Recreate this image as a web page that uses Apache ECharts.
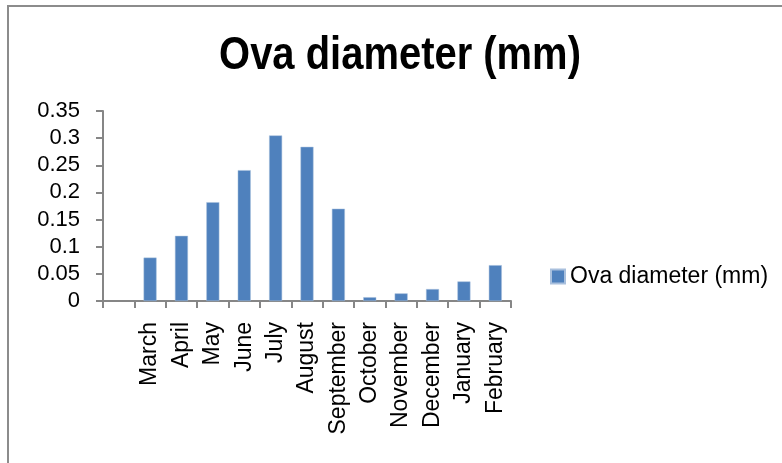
<html>
    <head>
        <title>Ova diameter</title>
        <meta charset="utf-8">
        <script src="https://cdn.jsdelivr.net/npm/echarts@6/dist/echarts.min.js"></script>
        <style>
            body { margin: 0; background: #fff; }
            #chart { width: 782px; height: 463px; }
        </style>
    </head>
    <body>
        <div id="chart"></div>
        <script type="text/javascript">
            // first category is left empty, like in the original sheet
            var months = ['', 'March', 'April', 'May', 'June', 'July', 'August', 'September',
                          'October', 'November', 'December', 'January', 'February'];
            var ovaDiameter = [null, 0.08, 0.12, 0.182, 0.241, 0.305, 0.284, 0.17,
                               0.007, 0.014, 0.022, 0.036, 0.066];
            var yTicks = [0, 0.05, 0.1, 0.15, 0.2, 0.25, 0.3, 0.35];
            var chartTitle = 'Ova diameter (mm)';

            var chart = echarts.init(document.getElementById('chart'));
            chart.setOption({
                animation: false,
                textStyle: { fontFamily: 'Liberation Sans' },
                graphic: [{
                    type: 'rect',
                    shape: { x: 8, y: 6, width: 800, height: 480 },
                    style: { fill: 'none', stroke: '#8c8c8c', lineWidth: 2 }
                }, {
                    // narrow bold title: squeeze Liberation Sans Bold horizontally
                    type: 'text',
                    x: 400,
                    y: 56,
                    scaleX: 0.85,
                    style: {
                        text: chartTitle,
                        fontFamily: 'Liberation Sans',
                        fontWeight: 'bold',
                        fontSize: 47,
                        fill: '#000',
                        align: 'center',
                        verticalAlign: 'middle'
                    }
                }],
                legend: {
                    left: 550,
                    top: 265,
                    padding: 0,
                    icon: 'rect',
                    itemWidth: 14,
                    itemHeight: 14,
                    textStyle: { fontSize: 23, color: '#000' }
                },
                grid: { left: 103, right: 271, top: 111, bottom: 162, containLabel: false },
                xAxis: {
                    type: 'category',
                    data: months,
                    axisLine: { lineStyle: { color: '#868686', width: 2 } },
                    axisTick: { show: true, length: 7, lineStyle: { color: '#868686', width: 2 } },
                    axisLabel: { rotate: 90, fontSize: 23, color: '#000', margin: 21, interval: 0 }
                },
                yAxis: {
                    type: 'value',
                    min: yTicks[0],
                    max: yTicks[yTicks.length - 1],
                    interval: 0.05,
                    splitLine: { show: false },
                    axisLine: { show: true, lineStyle: { color: '#868686', width: 2 } },
                    axisTick: { show: true, length: 7, lineStyle: { color: '#868686', width: 2 } },
                    axisLabel: {
                        fontSize: 22, color: '#000', margin: 23,
                        formatter: function (v) { return String(Math.round(v * 100) / 100); }
                    }
                },
                series: [{
                    name: chartTitle,
                    type: 'bar',
                    data: ovaDiameter,
                    barWidth: 13,
                    itemStyle: { color: '#4f81bd', borderColor: '#a9c0dd', borderWidth: 0.5 }
                }]
            });
        </script>
    </body>
</html>
